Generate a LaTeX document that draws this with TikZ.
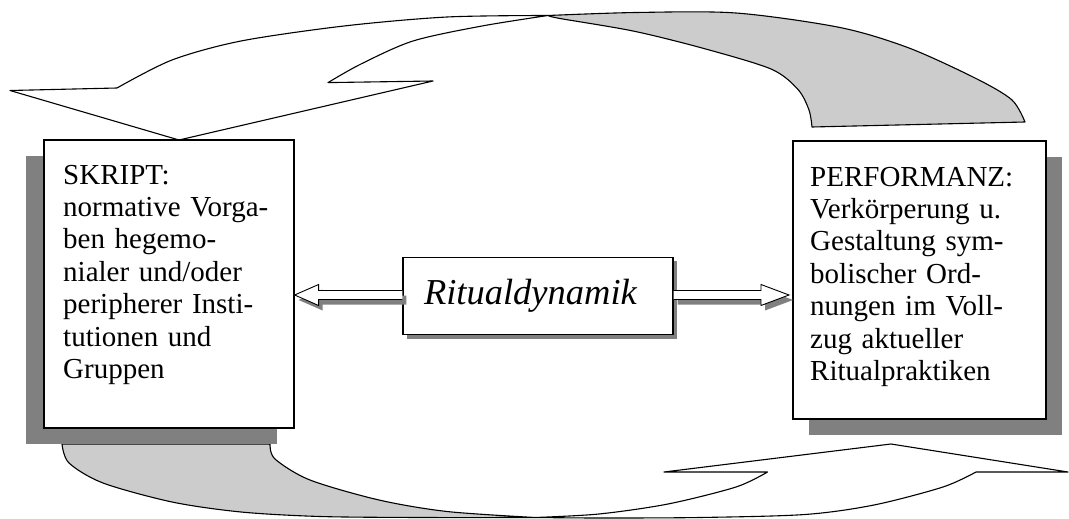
\documentclass[tikz,border=0pt]{standalone}
\usepackage{fontspec}
\setmainfont{Liberation Serif}
\usetikzlibrary{calc}
\definecolor{shadowgray}{HTML}{808080}
\definecolor{backgray}{HTML}{CCCCCC}
\begin{document}
\begin{tikzpicture}[x=1pt,y=-1pt,
  box/.style={draw, line width=1.6pt, fill=white, inner sep=0pt},
  shadowbox/.style={fill=shadowgray, draw=none},
  band/.style={draw, line width=1.1pt, line join=round},
  blockarrow/.style={draw, line width=0.9pt, fill=white, line join=miter},
  arrowshadow/.style={fill=shadowgray, draw=none, transform canvas={xshift=4pt, yshift=-5pt}},
  boxtext/.style={anchor=base west, text width=235pt, align=left, inner sep=0pt,
    font=\fontsize{29}{32.4}\selectfont}]
\useasboundingbox (0,0) rectangle (1069,519);

% ---- top curved arrow (back side, grey) ----
\filldraw[band, fill=backgray]
  plot[smooth] coordinates {(548,15.5) (636,12.5) (736,13) (840,27.5) (909,48) (977,79) (1012,100) (1025,122)}
  -- (812,127)
  -- plot[smooth] coordinates {(812,127) (809,110) (798,89.5) (771,69) (702,48) (633,31) (560,18.5) (548,15.5)}
  -- cycle;
% ---- top curved arrow (front, white) ----
\filldraw[band, fill=white]
  (179,140) -- (10,90.5) -- (117,88)
  -- plot[smooth] coordinates {(117,88) (172,60) (241,41) (344,26) (447,17) (548,15.5)}
  -- plot[smooth] coordinates {(548,15.5) (482,26) (413,41) (361,64) (328,82.6)}
  -- (433,81) -- cycle;

% ---- bottom curved arrow (back side, grey) ----
\filldraw[band, fill=backgray]
  (62,444) -- (270,444)
  -- plot[smooth] coordinates {(270,444) (275,459) (310,480) (379,500) (447,511.5) (535,517.5)}
  -- plot[smooth] coordinates {(535,517.5) (420,517.5) (320,516.5) (241,512) (172,502) (103,483) (69,463) (62,444)}
  -- cycle;
% ---- bottom curved arrow (front, white) ----
\filldraw[band, fill=white]
  plot[smooth] coordinates {(535,517.5) (599,514) (668,504) (736,487) (767.5,472)}
  -- (664,472) -- (891,444) -- (1068,472) -- (976,472)
  -- plot[smooth] coordinates {(976,472) (943,487) (874,505) (805,514.5) (700,517.5) (600,518) (535,517.5)}
  -- cycle;

% ---- side boxes ----
\fill[shadowbox] (26,156) rectangle (277,444);
\fill[shadowbox] (809,157) rectangle (1062,435);
\node[box, minimum width=250pt, minimum height=288pt, anchor=north west] (skript) at (43,139) {};
\node[box, minimum width=253pt, minimum height=278pt, anchor=north west] (perf) at (792,140) {};
\node[boxtext] (skripttext) at (63,184) {SKRIPT:\\normative Vorga-\\ben hegemo-\\nialer und/oder\\peripherer Insti-\\tutionen und\\Gruppen};
\node[boxtext] (perftext) at (810,186) {PERFORMANZ:\\Verkörperung u.\\Gestaltung sym-\\bolischer Ord-\\nungen im Voll-\\zug aktueller\\Ritualpraktiken};

% ---- centre box ----
\fill[shadowbox] (407,261) rectangle (677,338.5);
\node[box, line width=1.3pt, minimum width=270pt, minimum height=77pt, text width=228pt, align=left,
  font=\itshape\fontsize{36.5}{40}\selectfont] (rd) at (538,296) {Ritualdynamik};

% ---- hollow block arrows ----
\coordinate (la) at (skript.east |- 0,295);
\coordinate (ra) at ($(perf.west |- 0,295)+(-3,0)$);
\fill[arrowshadow] (rd.west |- 0,290.5) -- ($(la)+(24,-4.5)$) -- ($(la)+(24,-10.5)$) -- (la)
  -- ($(la)+(24,10.5)$) -- ($(la)+(24,4.5)$) -- (rd.west |- 0,299.5) -- cycle;
\fill[arrowshadow] (rd.east |- 0,290.5) -- ($(ra)+(-28,-4.5)$) -- ($(ra)+(-28,-10.5)$) -- (ra)
  -- ($(ra)+(-28,10.5)$) -- ($(ra)+(-28,4.5)$) -- (rd.east |- 0,299.5) -- cycle;
\draw[blockarrow] (rd.west |- 0,290.5) -- ($(la)+(24,-4.5)$) -- ($(la)+(24,-10.5)$) -- (la)
  -- ($(la)+(24,10.5)$) -- ($(la)+(24,4.5)$) -- (rd.west |- 0,299.5);
\draw[blockarrow] (rd.east |- 0,290.5) -- ($(ra)+(-28,-4.5)$) -- ($(ra)+(-28,-10.5)$) -- (ra)
  -- ($(ra)+(-28,10.5)$) -- ($(ra)+(-28,4.5)$) -- (rd.east |- 0,299.5);
\end{tikzpicture}
\end{document}
